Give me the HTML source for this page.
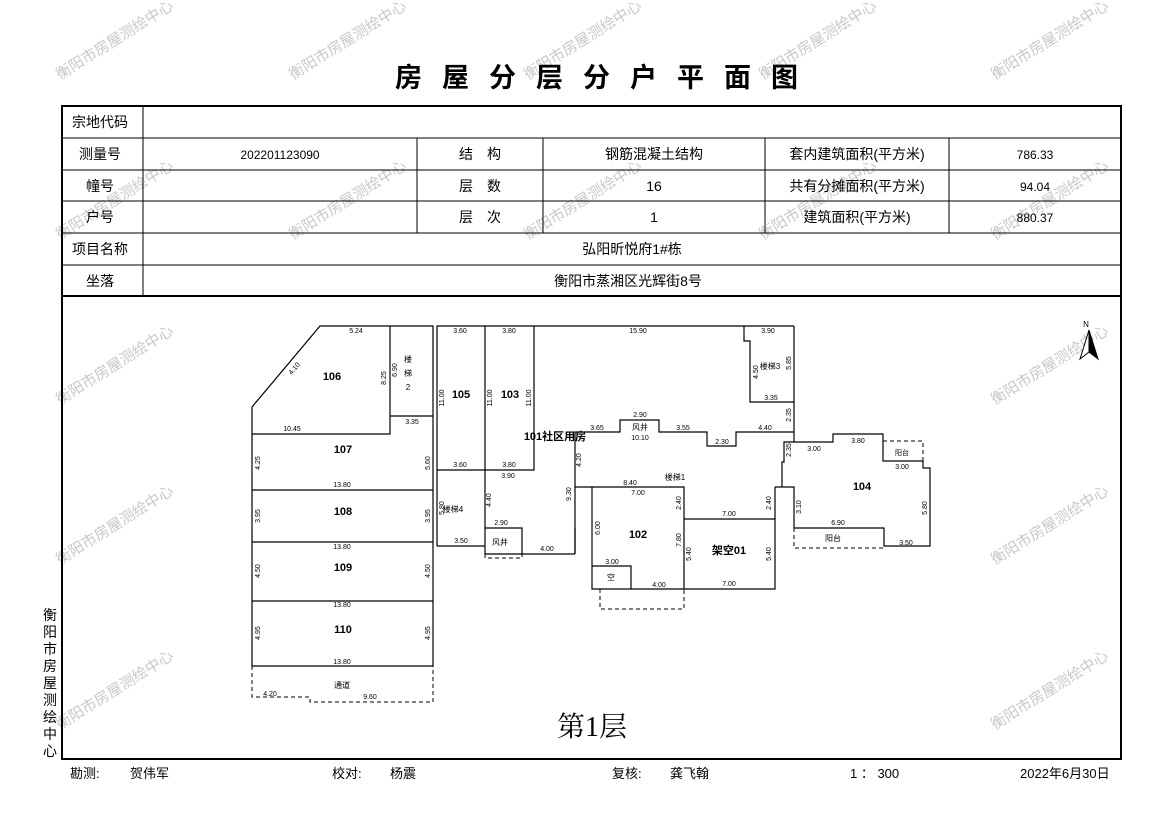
<!DOCTYPE html>
<html><head><meta charset="utf-8"><style>
html,body{margin:0;padding:0;background:#fff;}
svg{display:block}
text{font-family:"Liberation Sans","Noto Sans CJK SC",sans-serif;}
.t{font-size:14px;fill:#000;text-anchor:middle}
.d{font-size:7px;fill:#000;text-anchor:middle;font-family:"Liberation Mono",monospace}
.r{font-size:11px;font-weight:bold;text-anchor:middle;font-family:"Liberation Serif","Noto Serif CJK SC",serif}
.w{font-size:15px;fill:#c8c8c8}
</style></head><body>
<svg width="1169" height="827" viewBox="0 0 1169 827" xmlns="http://www.w3.org/2000/svg">
<g class="wm">
<text class="w" transform="translate(60,80) rotate(-32)">衡阳市房屋测绘中心</text>
<text class="w" transform="translate(293,80) rotate(-32)">衡阳市房屋测绘中心</text>
<text class="w" transform="translate(528,80) rotate(-32)">衡阳市房屋测绘中心</text>
<text class="w" transform="translate(763,80) rotate(-32)">衡阳市房屋测绘中心</text>
<text class="w" transform="translate(995,80) rotate(-32)">衡阳市房屋测绘中心</text>
<text class="w" transform="translate(60,240) rotate(-32)">衡阳市房屋测绘中心</text>
<text class="w" transform="translate(293,240) rotate(-32)">衡阳市房屋测绘中心</text>
<text class="w" transform="translate(528,240) rotate(-32)">衡阳市房屋测绘中心</text>
<text class="w" transform="translate(763,240) rotate(-32)">衡阳市房屋测绘中心</text>
<text class="w" transform="translate(995,240) rotate(-32)">衡阳市房屋测绘中心</text>
<text class="w" transform="translate(60,405) rotate(-32)">衡阳市房屋测绘中心</text>
<text class="w" transform="translate(995,405) rotate(-32)">衡阳市房屋测绘中心</text>
<text class="w" transform="translate(60,565) rotate(-32)">衡阳市房屋测绘中心</text>
<text class="w" transform="translate(995,565) rotate(-32)">衡阳市房屋测绘中心</text>
<text class="w" transform="translate(60,730) rotate(-32)">衡阳市房屋测绘中心</text>
<text class="w" transform="translate(995,730) rotate(-32)">衡阳市房屋测绘中心</text>
</g>
<text x="395" y="87" style="font-size:27px;font-weight:bold;letter-spacing:20px;font-family:'Noto Sans CJK SC',sans-serif">房屋分层分户平面图</text>
<!-- table -->
<rect x="62" y="106" width="1059" height="653" fill="none" stroke="#000" stroke-width="2"/>
<g stroke="#000" stroke-width="1">
<line x1="62" y1="138" x2="1121" y2="138"/><line x1="62" y1="170" x2="1121" y2="170"/>
<line x1="62" y1="201" x2="1121" y2="201"/><line x1="62" y1="233" x2="1121" y2="233"/>
<line x1="62" y1="265" x2="1121" y2="265"/>
<line x1="143" y1="106" x2="143" y2="296"/>
<line x1="417" y1="138" x2="417" y2="233"/><line x1="543" y1="138" x2="543" y2="233"/>
<line x1="765" y1="138" x2="765" y2="233"/><line x1="949" y1="138" x2="949" y2="233"/>
</g>
<line x1="62" y1="296" x2="1121" y2="296" stroke="#000" stroke-width="2"/>
<g class="t">
<text x="100" y="127">宗地代码</text>
<text x="100" y="159">测量号</text><text x="280" y="159" style="font-size:12px">202201123090</text>
<text x="480" y="159">结　构</text><text x="654" y="159">钢筋混凝土结构</text>
<text x="857" y="159">套内建筑面积(平方米)</text><text x="1035" y="159" style="font-size:12px">786.33</text>
<text x="100" y="191">幢号</text><text x="480" y="191">层　数</text><text x="654" y="191">16</text>
<text x="857" y="191">共有分摊面积(平方米)</text><text x="1035" y="191" style="font-size:12px">94.04</text>
<text x="100" y="222">户号</text><text x="480" y="222">层　次</text><text x="654" y="222">1</text>
<text x="857" y="222">建筑面积(平方米)</text><text x="1035" y="222" style="font-size:12px">880.37</text>
<text x="100" y="254">项目名称</text><text x="632" y="254">弘阳昕悦府1#栋</text>
<text x="100" y="286">坐落</text><text x="628" y="286">衡阳市蒸湘区光辉街8号</text>
</g>
<g class="t" style="font-size:14px">
<text x="50" y="620">衡</text><text x="50" y="637">阳</text><text x="50" y="654">市</text><text x="50" y="671">房</text><text x="50" y="688">屋</text><text x="50" y="705">测</text><text x="50" y="722">绘</text><text x="50" y="739">中</text><text x="50" y="756">心</text>
</g>
<g style="font-size:13px">
<text x="70" y="778">勘测:</text><text x="130" y="778">贺伟军</text>
<text x="332" y="778">校对:</text><text x="390" y="778">杨震</text>
<text x="612" y="778">复核:</text><text x="670" y="778">龚飞翰</text>
<text x="850" y="778">1 ： 300</text>
<text x="1020" y="778">2022年6月30日</text>
</g>
<g fill="none" stroke="#000" stroke-width="1.2">
<polyline points="252,407 320,326 433,326 433,666 252,666 252,407"/>
<polyline points="390,326 390,434 252,434"/>
<line x1="390" y1="416" x2="433" y2="416"/>
<line x1="252" y1="490" x2="433" y2="490"/>
<line x1="252" y1="542" x2="433" y2="542"/>
<line x1="252" y1="601" x2="433" y2="601"/>
<polyline points="437,546 437,326 794,326"/>
<line x1="485" y1="326" x2="485" y2="554"/>
<polyline points="534,326 534,470 437,470"/>
<line x1="437" y1="546" x2="485" y2="546"/>
<polyline points="744,326 744,341 750,341 750,402 794,402"/>
<polyline points="794,326 794,442 833,442 833,434 883,434 883,461 923,461 923,468 930,468 930,546 884,546 884,528 794,528"/>
<polyline points="794,442 784,442 784,462 782,462 782,487"/>
<polyline points="575,554 575,432 620,432 620,420 659,420 659,432 707,432 707,446 736,446 736,432 794,432"/>
<polyline points="485,554 522,554 522,528 485,528"/>
<line x1="522" y1="554" x2="575" y2="554"/>
<polyline points="575,487 684,487 684,589 592,589 592,487"/>
<polyline points="684,519 775,519 775,589 684,589"/>
<polyline points="775,487 794,487 794,528"/>
<line x1="775" y1="487" x2="775" y2="519"/>
<polyline points="592,566 631,566 631,589"/>
<line x1="575" y1="528" x2="575" y2="554"/>
</g>
<g fill="none" stroke="#000" stroke-width="1" stroke-dasharray="4,3">
<polyline points="252,666 252,697 310,697 310,702 433,702 433,666"/>
<polyline points="485,554 485,558 522,558 522,554"/>
<polyline points="600,589 600,609 684,609 684,589"/>
<polyline points="883,441 923,441 923,461"/>
<polyline points="794,528 794,548 884,548 884,546"/>
<line x1="575" y1="528" x2="575" y2="554"/>
<line x1="592" y1="528" x2="592" y2="554"/>
<line x1="775" y1="528" x2="775" y2="548"/>
</g>
<g class="r" style="font-size:11px">
<text x="332" y="380">106</text><text x="343" y="453">107</text><text x="343" y="515">108</text>
<text x="343" y="571">109</text><text x="343" y="633">110</text>
<text x="461" y="398">105</text><text x="510" y="398">103</text>
<text x="555" y="440">101社区用房</text>
<text x="638" y="538">102</text><text x="729" y="554">架空01</text>
<text x="862" y="490">104</text>
</g>
<g class="d">
<text x="356" y="333">5.24</text><text x="292" y="431">10.45</text><text x="412" y="424">3.35</text>
<text x="342" y="487">13.80</text><text x="342" y="549">13.80</text><text x="342" y="607">13.80</text><text x="342" y="664">13.80</text>
<text x="460" y="333">3.60</text><text x="509" y="333">3.80</text><text x="638" y="333">15.90</text><text x="768" y="333">3.90</text>
<text x="460" y="467">3.60</text><text x="509" y="467">3.80</text><text x="508" y="478">3.90</text>
<text x="461" y="543">3.50</text><text x="501" y="525">2.90</text><text x="547" y="551">4.00</text>
<text x="597" y="430">3.65</text><text x="640" y="417">2.90</text><text x="683" y="430">3.55</text><text x="765" y="430">4.40</text>
<text x="640" y="440">10.10</text><text x="722" y="444">2.30</text><text x="771" y="400">3.35</text>
<text x="630" y="485">8.40</text><text x="638" y="495">7.00</text><text x="729" y="516">7.00</text><text x="729" y="586">7.00</text>
<text x="612" y="564">3.00</text><text x="659" y="587">4.00</text>
<text x="814" y="451">3.00</text><text x="858" y="443">3.80</text><text x="902" y="469">3.00</text>
<text x="838" y="525">6.90</text><text x="906" y="545">3.50</text>
<text x="270" y="696">4.20</text><text x="370" y="699">9.60</text>
<text x="342" y="688" style="font-size:8px">通道</text>
<text x="453" y="512" style="font-size:8px">楼梯4</text>
<text x="675" y="480" style="font-size:8px">楼梯1</text>
<text x="770" y="369" style="font-size:8px">楼梯3</text>
<text x="500" y="545" style="font-size:8px">风井</text>
<text x="640" y="430" style="font-size:8px">风井</text>
<text x="833" y="541" style="font-size:8px">阳台</text>
<text x="902" y="455" style="font-size:7px">阳台</text>
<text x="611" y="580" style="font-size:8px">空</text>
</g>
<g class="d">
<text transform="translate(260,463) rotate(-90)">4.25</text>
<text transform="translate(430,463) rotate(-90)">5.60</text>
<text transform="translate(260,516) rotate(-90)">3.95</text>
<text transform="translate(430,516) rotate(-90)">3.95</text>
<text transform="translate(260,571) rotate(-90)">4.50</text>
<text transform="translate(430,571) rotate(-90)">4.50</text>
<text transform="translate(260,633) rotate(-90)">4.95</text>
<text transform="translate(430,633) rotate(-90)">4.95</text>
<text transform="translate(386,378) rotate(-90)">8.25</text>
<text transform="translate(397,370) rotate(-90)">6.90</text>
<text transform="translate(444,398) rotate(-90)">11.00</text>
<text transform="translate(492,398) rotate(-90)">11.00</text>
<text transform="translate(531,398) rotate(-90)">11.00</text>
<text transform="translate(444,508) rotate(-90)">5.80</text>
<text transform="translate(491,500) rotate(-90)">4.40</text>
<text transform="translate(571,494) rotate(-90)">9.30</text>
<text transform="translate(581,460) rotate(-90)">4.20</text>
<text transform="translate(600,528) rotate(-90)">6.00</text>
<text transform="translate(681,503) rotate(-90)">2.40</text>
<text transform="translate(681,540) rotate(-90)">7.80</text>
<text transform="translate(691,554) rotate(-90)">5.40</text>
<text transform="translate(771,554) rotate(-90)">5.40</text>
<text transform="translate(771,503) rotate(-90)">2.40</text>
<text transform="translate(758,372) rotate(-90)">4.50</text>
<text transform="translate(791,363) rotate(-90)">5.85</text>
<text transform="translate(791,415) rotate(-90)">2.35</text>
<text transform="translate(791,450) rotate(-90)">2.35</text>
<text transform="translate(801,507) rotate(-90)">3.10</text>
<text transform="translate(927,508) rotate(-90)">5.80</text>
<text transform="translate(296,370) rotate(-50)">4.10</text>
<text x="408" y="362" style="font-size:8px">楼</text><text x="408" y="376" style="font-size:8px">梯</text><text x="408" y="390" style="font-size:8px">2</text>
</g>
<text x="592" y="736" style="font-size:28px;font-family:'Liberation Serif','Noto Serif CJK SC',serif" text-anchor="middle">第1层</text>
<text x="1086" y="327" style="font-size:8px" text-anchor="middle">N</text>
<polygon points="1089,330 1080,359 1089,352" fill="#fff" stroke="#000"/>
<polygon points="1089,330 1098,359 1089,352" fill="#000" stroke="#000"/>
</svg>
</body></html>
